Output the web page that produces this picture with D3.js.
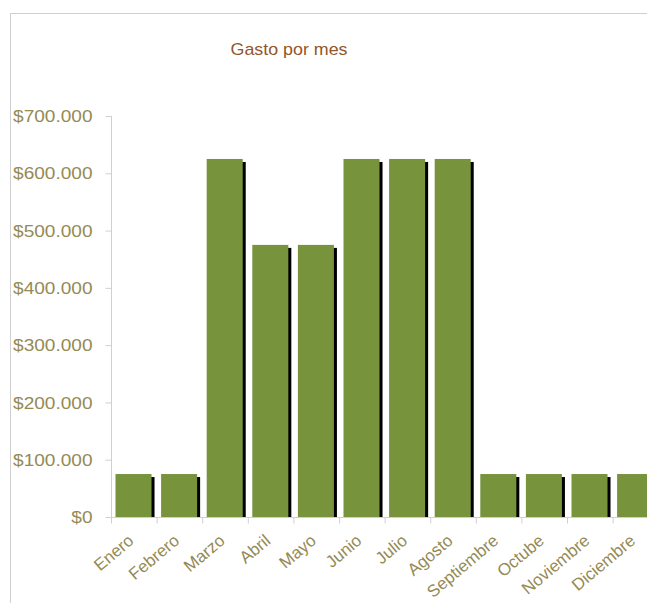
<!DOCTYPE html>
<html><head><meta charset="utf-8">
<script src="https://cdn.jsdelivr.net/npm/d3@7/dist/d3.min.js"></script>
<style>html,body{margin:0;padding:0;background:#fff;}svg{display:block;}</style>
</head><body>
<svg id="c" width="647" height="603"></svg>
<script>
const months = ["Enero","Febrero","Marzo","Abril","Mayo","Junio","Julio","Agosto","Septiembre","Octube","Noviembre","Diciembre"];
const gasto = [75000,75000,625000,475000,475000,625000,625000,625000,75000,75000,75000,75000];
const yTicks = [0,100000,200000,300000,400000,500000,600000,700000];
const title = "Gasto por mes";

(function(){
const svg = d3.select("#c");
const textColor = "#948a54", axisColor = "#d0d0d0";
const pLeft = 111.5, pBottom = 517, pTop = 116, step = 45.6;

// border
svg.append("line").attr("x1",10).attr("x2",647).attr("y1",13.5).attr("y2",13.5).attr("stroke","#cfcfcf");
svg.append("line").attr("x1",10.5).attr("x2",10.5).attr("y1",13).attr("y2",603).attr("stroke","#cfcfcf");

const y = d3.scaleLinear().domain([0,700000]).range([pBottom, pTop]);
const x = d3.scaleBand().domain(months).range([pLeft, pLeft + step*months.length]).padding(0);

const fmt = v => "$" + d3.format(",")(v).replace(/,/g,".");

// y axis
const yAxis = svg.append("g").attr("transform",`translate(${pLeft},0)`)
  .call(d3.axisLeft(y).tickValues(yTicks).tickSize(6).tickFormat(fmt));
yAxis.select(".domain").attr("stroke",axisColor).attr("d",`M0,${pTop}V${pBottom}`);
yAxis.selectAll(".tick line").attr("stroke",axisColor);
yAxis.selectAll(".tick text").remove();
yAxis.selectAll(".tick").append("text")
  .attr("fill",textColor).attr("font-family","Liberation Sans, Arial, sans-serif")
  .attr("font-size",16).attr("text-anchor","end").attr("dy","0.35em")
  .attr("transform","translate(-19,0) scale(1.19,1)")
  .text(d=>fmt(d));

// bars
const bw = step*0.79, off = 4;
svg.append("g").selectAll("rect").data(gasto).join("rect")
  .attr("x",(d,i)=>x(months[i])+off+3).attr("y",d=>y(d)+3)
  .attr("width",bw).attr("height",d=>pBottom-y(d)-3).attr("fill","#000");
svg.append("g").selectAll("rect").data(gasto).join("rect")
  .attr("x",(d,i)=>x(months[i])+off).attr("y",d=>y(d))
  .attr("width",bw).attr("height",d=>pBottom-y(d)).attr("fill","#77933c");

// x axis
const xg = svg.append("g").attr("transform",`translate(0,${pBottom+0.5})`);
xg.append("line").attr("x1",pLeft).attr("x2",647).attr("stroke",axisColor);
xg.selectAll("line.t").data(months).join("line").attr("class","t")
  .attr("x1",d=>x(d)).attr("x2",d=>x(d)).attr("y1",0).attr("y2",6).attr("stroke",axisColor);
xg.selectAll("text").data(months).join("text")
  .attr("fill",textColor).attr("font-family","Liberation Sans, Arial, sans-serif")
  .attr("font-size",17).attr("text-anchor","end")
  .attr("transform",d=>`translate(${x(d)+x.bandwidth()/2+0.5},${25}) rotate(-40)`)
  .text(d=>d);

// title
svg.append("text").attr("x",0).attr("y",0)
  .attr("transform","translate(289,55) scale(1.05,1)")
  .attr("text-anchor","middle").attr("fill","#93552a")
  .attr("font-family","Liberation Sans, Arial, sans-serif").attr("font-size",17)
  .text(title);
})();
</script>
</body></html>
